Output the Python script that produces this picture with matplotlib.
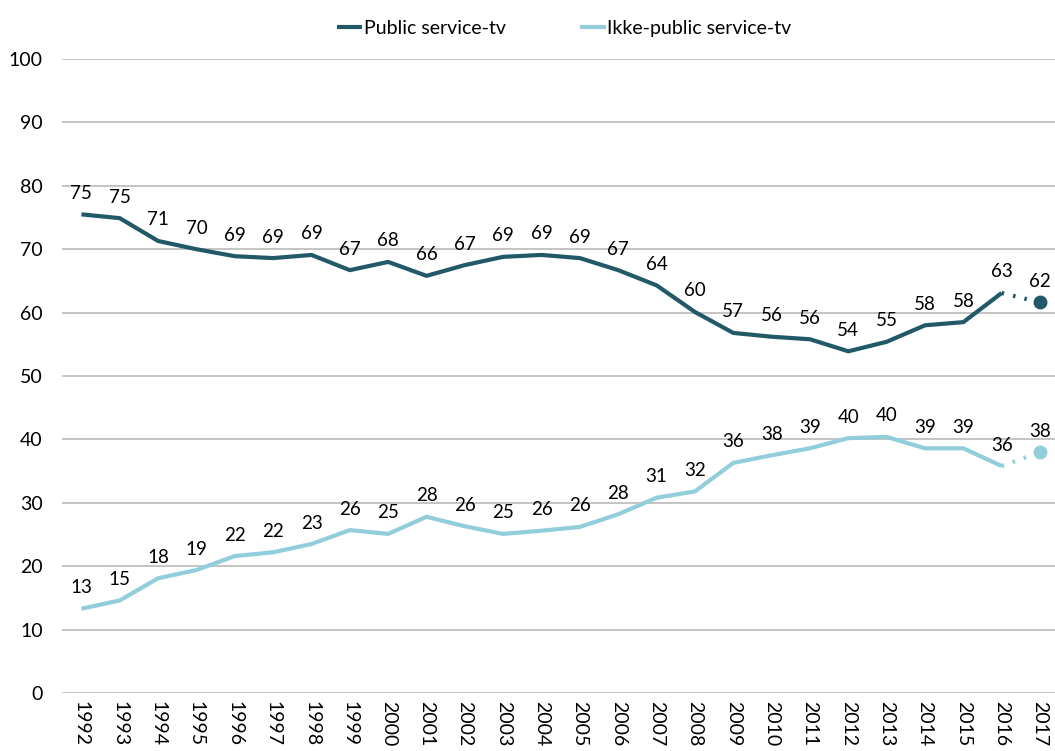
import numpy as np
import matplotlib
matplotlib.use('Agg')
import matplotlib.pyplot as plt

plt.rcParams['font.family'] = ['Lato', 'DejaVu Sans']

years = list(range(1992, 2018))
public = [75.5, 74.9, 71.3, 70.0, 68.9, 68.6, 69.1, 66.7, 68.0, 65.8, 67.5, 68.8, 69.1,
          68.6, 66.7, 64.3, 60.1, 56.8, 56.2, 55.8, 53.9, 55.4, 58.0, 58.5, 63.1, 61.6]
public_labels = [75, 75, 71, 70, 69, 69, 69, 67, 68, 66, 67, 69, 69,
                 69, 67, 64, 60, 57, 56, 56, 54, 55, 58, 58, 63, 62]
ikke = [13.3, 14.6, 18.1, 19.4, 21.6, 22.2, 23.5, 25.7, 25.1, 27.8, 26.3, 25.1, 25.6,
        26.2, 28.2, 30.8, 31.8, 36.3, 37.5, 38.6, 40.2, 40.4, 38.6, 38.6, 35.8, 38.0]
ikke_labels = [13, 15, 18, 19, 22, 22, 23, 26, 25, 28, 26, 25, 26,
               26, 28, 31, 32, 36, 38, 39, 40, 40, 39, 39, 36, 38]

dark = '#215968'
light = '#92CDDC'

fig = plt.figure(figsize=(10.55, 7.51), dpi=100)
ax = fig.add_axes([0.059, 0.0772, 0.941, 0.8442])

for vals, labs, col, name in [(public, public_labels, dark, 'Public service-tv'),
                              (ikke, ikke_labels, light, 'Ikke-public service-tv')]:
    ax.plot(years[:-1], vals[:-1], color=col, lw=3, label=name, solid_capstyle='butt')
    ax.plot(years[-2:], vals[-2:], color=col, lw=3, ls=(0, (0.6, 2.2)))
    ax.plot(years[-1], vals[-1], 'o', color=col, ms=9)
    for x, v, l in zip(years, vals, labs):
        ax.annotate(str(l), (x, v), xytext=(0, 9), textcoords='offset points',
                    ha='center', va='bottom', fontsize=13.5, color='black')

ax.set_ylim(0, 100)
ax.set_yticks(range(0, 101, 10))
ax.set_xlim(1991.5, 2017.39)
ax.set_xticks(years)
ax.set_xticklabels([str(y) for y in years], rotation=270, fontsize=14)
ax.tick_params(axis='y', labelsize=14, length=0, pad=14)
ax.tick_params(axis='x', length=0, pad=6)
ax.grid(axis='y', color='#BFBFBF', lw=1.3)
ax.set_axisbelow(True)
for s in ax.spines.values():
    s.set_visible(False)

fig.legend(loc='center', bbox_to_anchor=(0.535, 0.962), ncol=2, frameon=False,
           fontsize=14, handlelength=1.3, handletextpad=0.1, columnspacing=3.8)

fig.savefig('out.png', dpi=100)
